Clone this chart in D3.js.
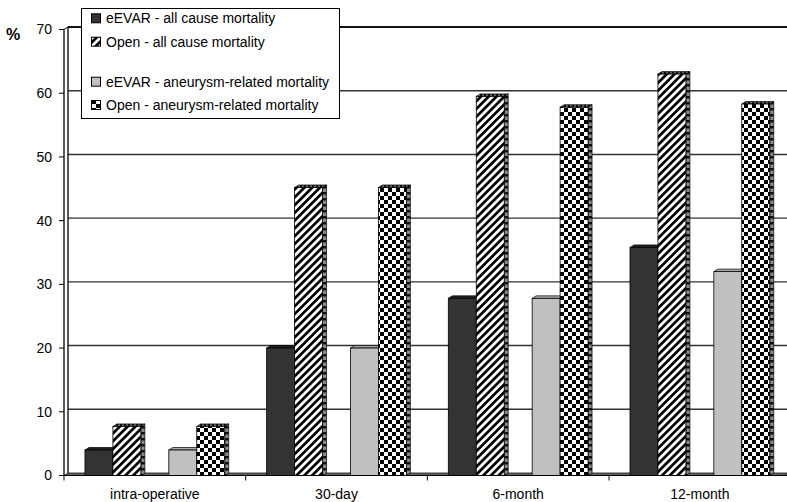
<!DOCTYPE html>
<html><head><meta charset="utf-8">
<script src="https://cdn.jsdelivr.net/npm/d3@7"></script>
<style>body{margin:0;background:#fff}svg{display:block;font-family:"Liberation Sans",Arial,sans-serif}</style>
</head><body><svg id="c" width="787" height="502"></svg>
<script>
const categories = ["intra-operative","30-day","6-month","12-month"];
const seriesNames = ["eEVAR - all cause mortality","Open - all cause mortality","","eEVAR - aneurysm-related mortality","Open - aneurysm-related mortality"];
const eevarAll = [4, 20, 27.8, 35.8];
const openAll = [7.7, 45.2, 59.5, 63];
const blankSeries = [null, null, null, null];
const eevarAneurysm = [4, 20, 27.8, 32];
const openAneurysm = [7.7, 45.2, 57.8, 58.3];
const yTicks = [0,10,20,30,40,50,60,70];

const seriesData = [eevarAll, openAll, blankSeries, eevarAneurysm, openAneurysm];
const fills = ["#333333","url(#hatch)",null,"#c0c0c0","url(#check)"];
const sideFills = ["#222","url(#sideDash)",null,"#999","url(#sideDash)"];
const topFills = ["#222","url(#topPat)",null,"#aaa","url(#topPat)"];

const svg = d3.select("#c");
const defs = svg.append("defs");
const h = defs.append("pattern").attr("id","hatch").attr("patternUnits","userSpaceOnUse")
  .attr("width",5.5).attr("height",5.5).attr("patternTransform","rotate(45)");
h.append("rect").attr("width",5.5).attr("height",5.5).attr("fill","#fff");
h.append("rect").attr("width",2.7).attr("height",5.5).attr("fill","#000");
const ck = defs.append("pattern").attr("id","check").attr("patternUnits","userSpaceOnUse")
  .attr("width",8).attr("height",8);
ck.append("rect").attr("width",8).attr("height",8).attr("fill","#fff");
ck.append("rect").attr("width",4).attr("height",4).attr("fill","#000");
ck.append("rect").attr("x",4).attr("y",4).attr("width",4).attr("height",4).attr("fill","#000");
const sd = defs.append("pattern").attr("id","sideDash").attr("patternUnits","userSpaceOnUse")
  .attr("width",4).attr("height",6);
sd.append("rect").attr("width",4).attr("height",6).attr("fill","#8a8a8a");
sd.append("rect").attr("y",0).attr("width",4).attr("height",2.5).attr("fill","#111");
const tp = defs.append("pattern").attr("id","topPat").attr("patternUnits","userSpaceOnUse")
  .attr("width",4).attr("height",4);
tp.append("rect").attr("width",4).attr("height",4).attr("fill","#666");
tp.append("rect").attr("width",2).attr("height",4).attr("fill","#111");

const x0 = 64, xEnd = 790.7, dx = 4, dy = 2.5;
const y = d3.scaleLinear().domain([0,70]).range([475.5,29.5]);
const xc = d3.scaleBand().domain(categories).range([x0,xEnd]).padding(0);
const xs = d3.scaleBand().domain(d3.range(seriesNames.length)).range([0,xc.bandwidth()]).paddingInner(0).paddingOuter(0.75);

// back wall gridlines
svg.append("g").selectAll("line").data(yTicks.filter(d=>d>0)).join("line")
  .attr("x1",x0+dx).attr("x2",787).attr("y1",d=>y(d)-dy).attr("y2",d=>y(d)-dy)
  .attr("stroke",d=>d===70?"#111":"#333").attr("stroke-width",d=>d===70?2.2:1.4);
// left wall
svg.append("line").attr("x1",x0).attr("x2",x0).attr("y1",y(70)).attr("y2",y(0)).attr("stroke","#000").attr("stroke-width",1.3);
svg.append("line").attr("x1",x0+dx).attr("x2",x0+dx).attr("y1",y(70)-dy).attr("y2",y(0)-dy).attr("stroke","#000").attr("stroke-width",1.3);
svg.append("line").attr("x1",x0).attr("x2",x0+dx).attr("y1",y(70)).attr("y2",y(70)-dy).attr("stroke","#000").attr("stroke-width",1);
// floor
svg.append("polygon").attr("points",[[x0,y(0)],[x0+dx,y(0)-dy],[787,y(0)-dy],[787,y(0)]].join(" "))
  .attr("fill","#666").attr("stroke","#111").attr("stroke-width",0.8);

// y axis ticks & labels
const ya = svg.append("g");
ya.selectAll("line").data(yTicks).join("line").attr("x1",x0-5).attr("x2",x0).attr("y1",d=>y(d)).attr("y2",d=>y(d)).attr("stroke","#000");
ya.selectAll("text").data(yTicks).join("text").attr("x",52).attr("y",d=>y(d)).attr("dy","0.35em")
  .attr("text-anchor","end").attr("font-size",14).attr("fill","#000").text(d=>d);
svg.append("text").attr("x",6).attr("y",40).attr("font-size",16).attr("font-weight","bold").text("%");

// bars
categories.forEach((cat,ci)=>{
  seriesData.forEach((arr,si)=>{
    const v = arr[ci];
    if(v==null) return;
    const xl = xc(cat)+xs(si), w = xs.bandwidth(), yt = y(v), yb = y(0);
    const g = svg.append("g");
    g.append("polygon").attr("points",[[xl+w,yt],[xl+w+dx,yt-dy],[xl+w+dx,yb-dy],[xl+w,yb]].join(" "))
      .attr("fill",sideFills[si]).attr("stroke","#000").attr("stroke-width",0.7);
    g.append("polygon").attr("points",[[xl,yt],[xl+dx,yt-dy],[xl+w+dx,yt-dy],[xl+w,yt]].join(" "))
      .attr("fill",topFills[si]).attr("stroke","#000").attr("stroke-width",0.7);
    g.append("rect").attr("x",xl).attr("y",yt).attr("width",w).attr("height",yb-yt)
      .attr("fill",fills[si]).attr("stroke","#000").attr("stroke-width",0.8);
  });
});

// x axis
svg.append("line").attr("x1",x0).attr("x2",787).attr("y1",y(0)).attr("y2",y(0)).attr("stroke","#000").attr("stroke-width",1.2);
svg.append("g").selectAll("line").data(categories).join("line")
  .attr("x1",d=>xc(d)).attr("x2",d=>xc(d)).attr("y1",y(0)).attr("y2",y(0)+5).attr("stroke","#000");
svg.append("g").selectAll("text").data(categories).join("text")
  .attr("x",d=>xc(d)+xc.bandwidth()/2).attr("y",499).attr("text-anchor","middle").attr("font-size",14).text(d=>d);

// legend
svg.append("rect").attr("x",81.5).attr("y",8.5).attr("width",258).attr("height",110).attr("fill","#fff").attr("stroke","#000").attr("stroke-width",1);
const legY = [18.3,41.7,61.7,81.7,105];
seriesNames.forEach((n,i)=>{
  if(!n) return;
  svg.append("rect").attr("x",91.5).attr("y",legY[i]-4.5).attr("width",9).attr("height",9)
    .attr("fill",fills[i]).attr("stroke","#000").attr("stroke-width",1);
  svg.append("text").attr("x",106).attr("y",legY[i]).attr("dy","0.35em").attr("font-size",14).text(n);
});
</script></body></html>
